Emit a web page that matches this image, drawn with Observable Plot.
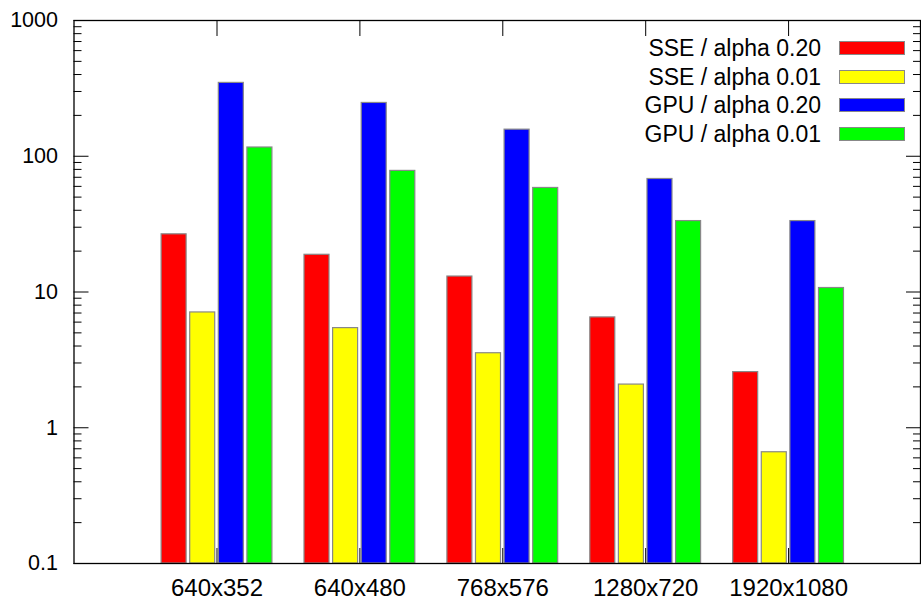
<!DOCTYPE html>
<html><head><meta charset="utf-8">
<script src="https://cdn.jsdelivr.net/npm/d3@7"></script>
<script src="https://cdn.jsdelivr.net/npm/@observablehq/plot@0.6"></script>
<style>
body{margin:0;background:#fff;}
#wrap{position:relative;width:921px;height:600px;font-family:"Liberation Sans",Arial,sans-serif;}
#legend .txt{position:absolute;font-size:23px;color:#000;text-align:right;width:300px;line-height:28px;height:28px;white-space:nowrap;}
#legend .sw{position:absolute;width:64px;height:12px;border:1px solid #888;}
.xlab text{font-size:24px;}
.ylab text{font-size:21.5px;}
</style></head><body><div id="wrap"></div>
<script>
const categories = ["640x352", "640x480", "768x576", "1280x720", "1920x1080"];
const seriesNames = ["SSE / alpha 0.20", "SSE / alpha 0.01", "GPU / alpha 0.20", "GPU / alpha 0.01"];
const seriesColors = ["#ff0000", "#ffff00", "#0000ff", "#00ff00"];
const sseAlpha020 = [26.6, 18.8, 13.0, 6.5, 2.57];
const sseAlpha001 = [7.07, 5.42, 3.54, 2.08, 0.66];
const gpuAlpha020 = [347, 247, 157, 68, 33.3];
const gpuAlpha001 = [116, 78, 58.4, 33.3, 10.7];
const yDomain = [0.1, 1000];
const yMajorTicks = [0.1, 1, 10, 100, 1000];
const yMinorTicks = [0.2,0.3,0.4,0.5,0.6,0.7,0.8,0.9, 2,3,4,5,6,7,8,9, 20,30,40,50,60,70,80,90, 200,300,400,500,600,700,800,900];

const seriesValues = [sseAlpha020, sseAlpha001, gpuAlpha020, gpuAlpha001];
const tables = seriesValues.map((vals, s) =>
  categories.map((c, i) => ({group: c, series: seriesNames[s], value: vals[i]})));

const W = 921, H = 600, mL = 73.5, mR = 1, mT = 20, mB = 37;
const step = (W - mL - mR) / (5 + 2 * 0.462);
const barW = 25, barPitch = 28.6, barInset = (step - barW) / 2;

const bars = tables.map((t, s) => Plot.barY(t, {
  x: "group", y1: yDomain[0], y2: "value",
  fill: seriesColors[s], stroke: "#888", strokeWidth: 1.2,
  insetLeft: barInset, insetRight: barInset, dx: (s - 1.5) * barPitch
}));

const chart = Plot.plot({
  width: W, height: H, marginLeft: mL, marginRight: mR, marginTop: mT, marginBottom: mB,
  style: {fontFamily: "Liberation Sans, Arial, sans-serif", fontSize: "22px", background: "#fff", color: "#000"},
  x: {type: "band", domain: categories, paddingInner: 0, paddingOuter: 0.462, align: 0.542, round: false},
  y: {type: "log", domain: yDomain},
  marks: [
    Plot.axisX({anchor: "top", tickSize: -15, fill: "none", label: null}),
    Plot.axisX({anchor: "bottom", tickSize: -15, fill: "none", label: null}),
    ...bars,
    Plot.axisX({anchor: "bottom", tickSize: 0, tickPadding: 15, label: null, className: "xlab"}),
    Plot.axisY({anchor: "left", ticks: yMajorTicks, tickSize: -15, fill: "none", label: null}),
    Plot.axisY({anchor: "left", ticks: yMinorTicks, tickSize: -8, fill: "none", label: null}),
    Plot.axisY({anchor: "right", ticks: yMajorTicks, tickSize: -15, fill: "none", label: null}),
    Plot.axisY({anchor: "right", ticks: yMinorTicks, tickSize: -8, fill: "none", label: null}),
    Plot.axisY({anchor: "left", ticks: yMajorTicks, tickSize: 0, tickPadding: 16, tickFormat: d => String(d), label: null, className: "ylab"}),
    Plot.frame({stroke: "#000", strokeWidth: 1.3})
  ]
});

const wrap = document.getElementById("wrap");
wrap.appendChild(chart);
const legend = document.createElement("div");
legend.id = "legend";
const rowY = [48, 76.5, 105, 133.5];
seriesNames.forEach((name, i) => {
  const t = document.createElement("div");
  t.className = "txt";
  t.textContent = name;
  t.style.left = (821 - 300) + "px";
  t.style.top = (rowY[i] - 14) + "px";
  legend.appendChild(t);
  const sw = document.createElement("div");
  sw.className = "sw";
  sw.style.left = "839px";
  sw.style.top = (rowY[i] - 7) + "px";
  sw.style.background = seriesColors[i];
  legend.appendChild(sw);
});
wrap.appendChild(legend);
</script>
</body></html>
